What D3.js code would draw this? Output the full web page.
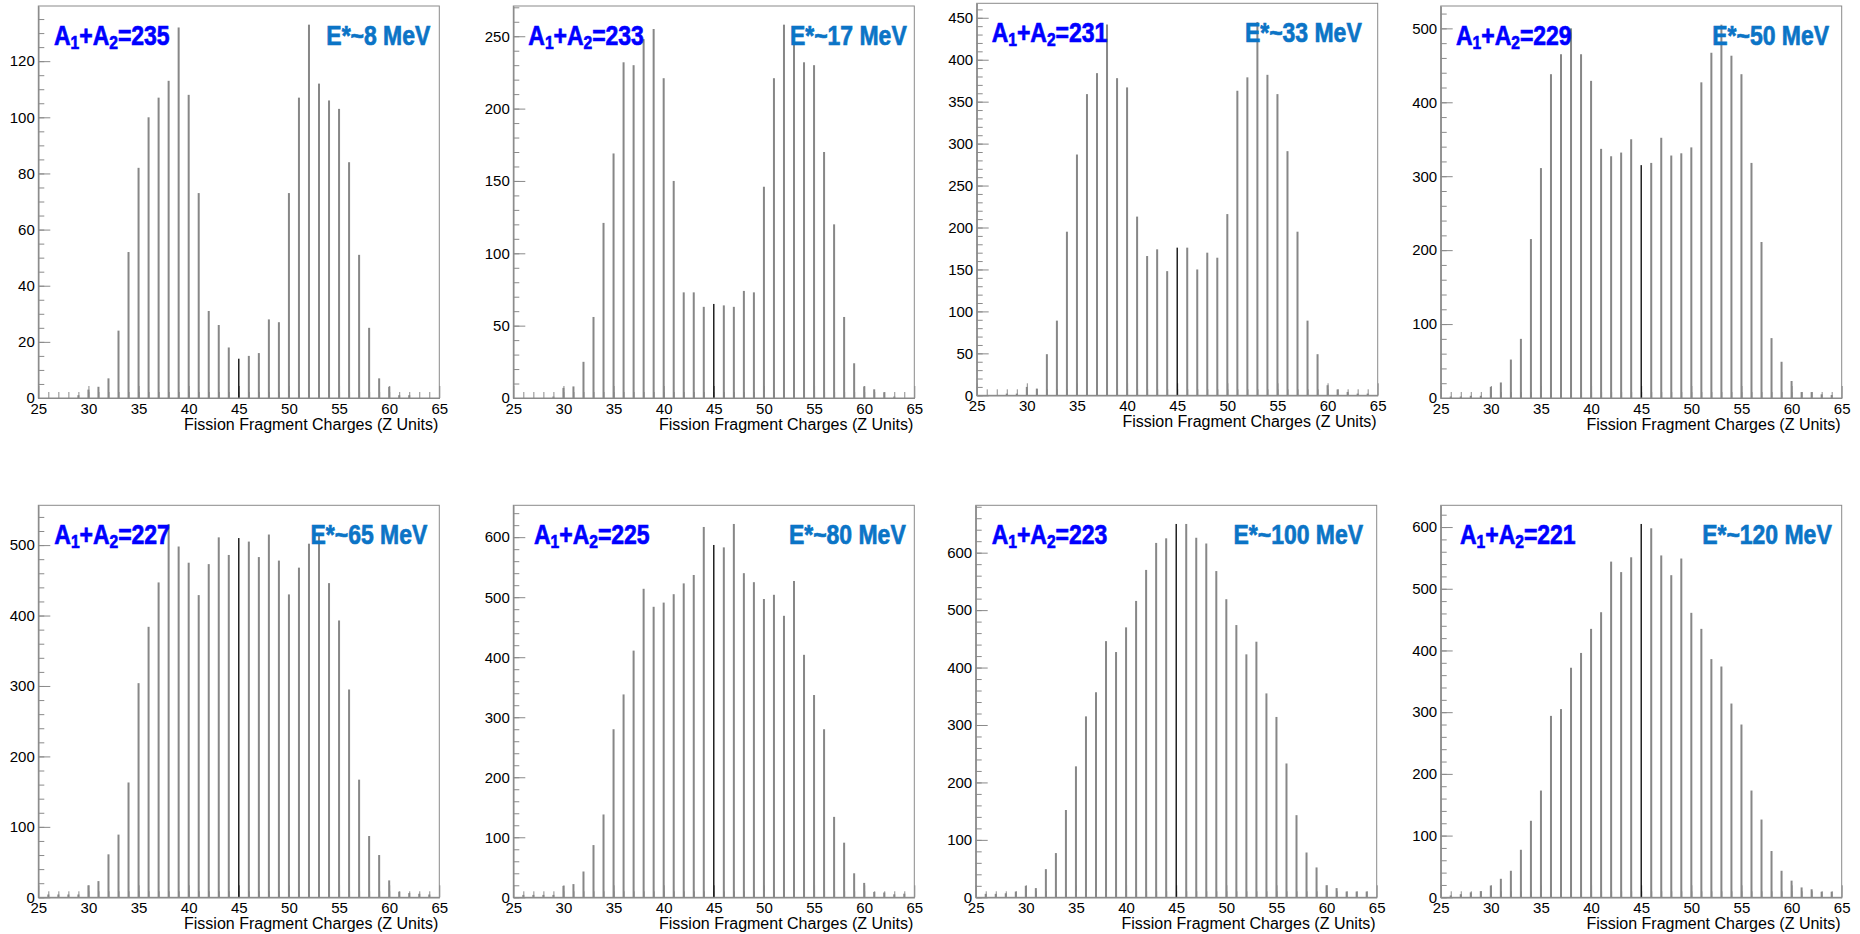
<!DOCTYPE html>
<html>
<head>
<meta charset="utf-8">
<script src="https://cdn.jsdelivr.net/npm/d3@7"></script>
<style>
  html, body { margin: 0; padding: 0; background: #fff; }
  svg { display: block; }
  text { font-family: 'Liberation Sans', Arial, Helvetica, sans-serif; }
</style>
</head>
<body>
<svg id="chart" width="1860" height="934"></svg>
<script>
// fragment charge Z for every bin
const charges = [26, 27, 28, 29, 30, 31, 32, 33, 34, 35, 36, 37, 38, 39, 40, 41, 42, 43, 44, 45,
    46, 47, 48, 49, 50, 51, 52, 53, 54, 55, 56, 57, 58, 59, 60, 61, 62, 63, 64];

// counts per charge, one array per compound system
const yields235 = [0, 0, 0, 1, 3, 4, 7, 24, 52, 82, 100, 107, 113, 132, 108, 73, 31, 26, 18, 14,
    15, 16, 28, 27, 73, 107, 133, 112, 106, 103, 84, 51, 25, 7, 4, 1, 1, 0, 0];
const yields233 = [0, 0, 0, 1, 7, 8, 25, 56, 121, 169, 232, 230, 248, 255, 221, 150, 73, 73, 63, 65,
    64, 63, 74, 73, 146, 221, 258, 245, 232, 230, 170, 120, 56, 24, 8, 6, 4, 1, 0];
const yields231 = [0, 0, 2, 2, 10, 8, 49, 89, 195, 287, 359, 384, 442, 378, 367, 213, 166, 174, 148, 176,
    176, 150, 170, 164, 216, 363, 379, 445, 382, 359, 291, 195, 89, 49, 12, 7, 4, 2, 2];
const yields229 = [2, 2, 3, 3, 15, 21, 52, 80, 215, 311, 438, 465, 500, 465, 429, 337, 327, 332, 350, 315,
    318, 352, 328, 331, 339, 427, 467, 505, 463, 438, 318, 211, 81, 49, 23, 8, 8, 5, 4];
const yields227 = [4, 4, 4, 4, 17, 23, 61, 89, 163, 304, 384, 447, 530, 498, 475, 429, 473, 511, 486, 510,
    505, 483, 515, 478, 430, 468, 502, 515, 446, 393, 295, 167, 87, 60, 24, 8, 6, 5, 4];
const yields225 = [4, 4, 4, 4, 19, 22, 43, 87, 138, 280, 338, 411, 514, 484, 491, 505, 523, 537, 617, 587,
    583, 622, 540, 525, 497, 504, 469, 527, 404, 337, 280, 134, 91, 40, 24, 9, 8, 5, 6];
const yields223 = [6, 6, 7, 10, 20, 16, 49, 77, 152, 228, 315, 357, 446, 427, 470, 516, 570, 617, 625, 650,
    650, 626, 616, 568, 519, 474, 423, 445, 355, 314, 233, 143, 78, 52, 21, 16, 10, 10, 10];
const yields221 = [3, 5, 8, 10, 19, 30, 43, 77, 124, 173, 294, 305, 372, 396, 435, 462, 544, 527, 551, 605,
    598, 554, 522, 549, 461, 435, 386, 374, 314, 280, 173, 126, 75, 43, 27, 16, 13, 9, 9];

const massSums = [235, 233, 231, 229, 227, 225, 223, 221];
const excitations = [8, 17, 33, 50, 65, 80, 100, 120];
const xMajorTicks = [25, 30, 35, 40, 45, 50, 55, 60, 65];
const xTitle = 'Fission Fragment Charges (Z Units)';

const allYields = [yields235, yields233, yields231, yields229, yields227, yields225, yields223, yields221];

// frame placement of each pad on the canvas
const pads = [
    { left: 38.3, top: 6, aInset: 15.7, eInset: 9 },
    { left: 513.3, top: 6, aInset: 15, eInset: 7.6 },
    { left: 976.7, top: 3.3, aInset: 15, eInset: 16 },
    { left: 1440.7, top: 6, aInset: 15.3, eInset: 12.7 },
    { left: 38.3, top: 505.3, aInset: 16, eInset: 12 },
    { left: 513.3, top: 505.3, aInset: 20.7, eInset: 8.6 },
    { left: 975.7, top: 505.3, aInset: 16, eInset: 13.7 },
    { left: 1440.7, top: 505.3, aInset: 19.3, eInset: 10 },
];

const plotW = 401;
const plotH = 392;
const lineGrey = '#8a8a8a';
const barGrey = '#878787';
const tickFont = 15;

const svg = d3.select('#chart');

function styleAxis(sel) {
    sel.attr('font-family', null).attr('font-size', null);
    sel.selectAll('.domain').attr('stroke', lineGrey);
    sel.selectAll('.tick line').attr('stroke', lineGrey);
    sel.selectAll('.tick text')
        .attr('fill', '#000')
        .style('font-size', `${tickFont}px`);
}

function drawPanel(counts, massSum, excitation, pad) {
    const g = svg.append('g')
        .attr('transform', `translate(${pad.left},${pad.top})`);

    const xScale = d3.scaleLinear()
        .domain([25, 65])
        .range([0, plotW]);

    // ROOT style: top of the frame at 1.05 x the highest bin
    const yMax = d3.max(counts) * 1.05;
    const yScale = d3.scaleLinear()
        .domain([0, yMax])
        .range([plotH, 0]);

    const yMajor = yScale.ticks(7);
    const step = yMajor[1] - yMajor[0];
    const minorStep = String(step)[0] === '2' ? step / 4 : step / 5;
    const yMinor = d3.range(0, yMax, minorStep);

    // minor ticks first
    g.append('g')
        .attr('transform', `translate(0,${plotH})`)
        .call(d3.axisBottom(xScale).tickValues(charges).tickSize(-6).tickSizeOuter(0).tickFormat(''))
        .call(styleAxis);
    g.append('g')
        .call(d3.axisLeft(yScale).tickValues(yMinor).tickSize(-6).tickSizeOuter(0).tickFormat(''))
        .call(styleAxis);

    g.append('g')
        .attr('transform', `translate(0,${plotH})`)
        .call(d3.axisBottom(xScale).tickValues(xMajorTicks).tickSize(-12).tickSizeOuter(0).tickPadding(5.5))
        .call(styleAxis);
    g.append('g')
        .call(d3.axisLeft(yScale).tickValues(yMajor).tickSize(-12).tickSizeOuter(0).tickPadding(3.5))
        .call(styleAxis);

    const bins = charges.map((z, i) => ({ z, n: counts[i] }));

    g.append('g')
        .selectAll('rect')
        .data(bins)
        .enter()
        .append('rect')
        .attr('x', d => xScale(d.z) - (d.z === 45 ? 0.65 : 1))
        .attr('width', d => (d.z === 45 ? 1.3 : 2))
        .attr('y', d => yScale(d.n))
        .attr('height', d => plotH - yScale(d.n))
        .attr('fill', d => (d.z === 45 ? '#000' : barGrey));

    g.append('rect')
        .attr('x', 0)
        .attr('y', 0)
        .attr('width', plotW)
        .attr('height', plotH)
        .attr('fill', 'none')
        .attr('stroke', lineGrey)
        .attr('stroke-width', 1);

    g.append('text')
        .attr('x', plotW - 1)
        .attr('y', plotH + 32)
        .attr('text-anchor', 'end')
        .style('font-size', '16px')
        .text(xTitle);

    // A1+A2 label, condensed bold
    const aLabel = g.append('text')
        .attr('transform', `translate(${pad.aInset},39) scale(0.82,1)`)
        .attr('fill', '#0000ff')
        .attr('stroke', '#0000ff')
        .attr('stroke-width', 0.7)
        .style('font-weight', 'bold')
        .style('font-size', '28px');
    aLabel.append('tspan').text('A');
    aLabel.append('tspan').text('1').style('font-size', '19px').attr('dy', 4);
    aLabel.append('tspan').text('+A').attr('dy', -4);
    aLabel.append('tspan').text('2').style('font-size', '19px').attr('dy', 4);
    aLabel.append('tspan').text(`=${massSum}`).attr('dy', -4);

    g.append('text')
        .attr('transform', `translate(${plotW - pad.eInset},39) scale(0.82,1)`)
        .attr('text-anchor', 'end')
        .attr('fill', '#0b74c6')
        .attr('stroke', '#0b74c6')
        .attr('stroke-width', 0.7)
        .style('font-weight', 'bold')
        .style('font-size', '28px')
        .text(`E*~${excitation} MeV`);
}

allYields.forEach((counts, i) => {
    drawPanel(counts, massSums[i], excitations[i], pads[i]);
});
</script>
</body>
</html>
